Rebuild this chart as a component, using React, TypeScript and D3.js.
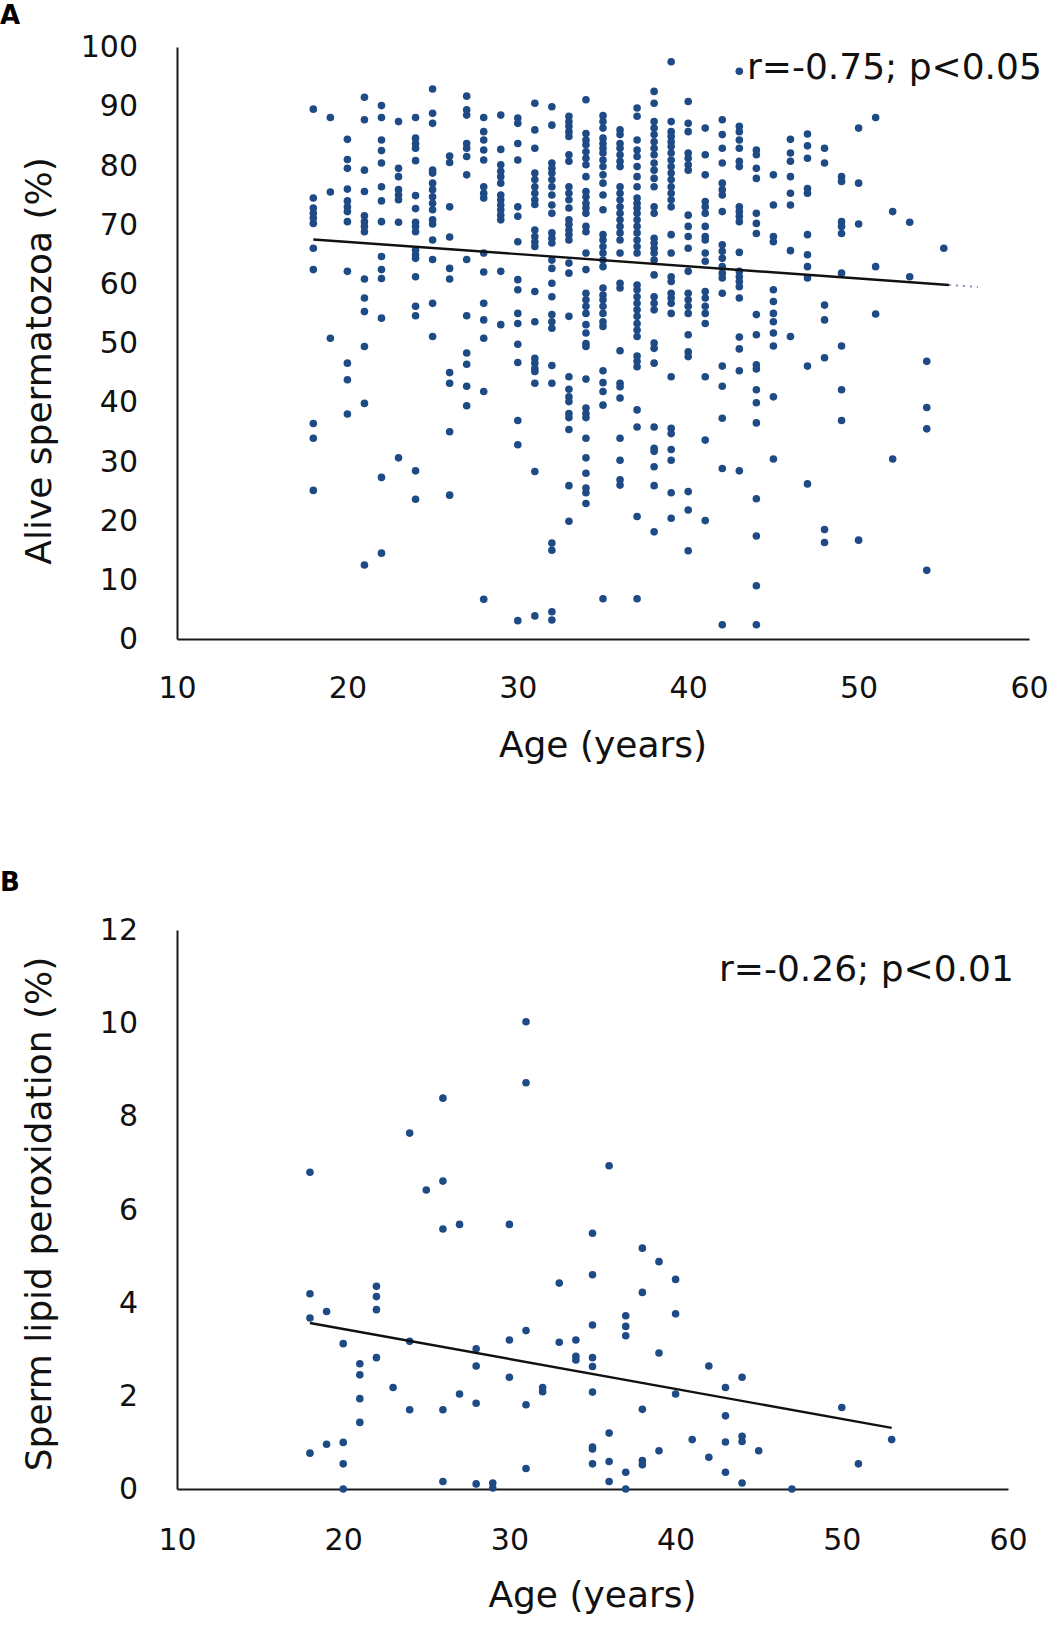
import React, { useEffect, useRef } from "react";
import * as d3 from "d3";

// ---- Panel A: alive spermatozoa (%) vs age, values grouped per age ----
const agesA = [
  18, 19, 20, 21, 22, 23, 24, 25, 26, 27, 28, 29, 30, 31, 32, 33, 34, 35, 36,
  37, 38, 39, 40, 41, 42, 43, 44, 45, 46, 47, 48, 49, 50, 51, 52, 53, 54, 55,
];
const aliveA: number[][] = [
  [89.5, 74.5, 72.8, 71.9, 71.1, 70.2, 66.0, 62.4, 36.4, 33.9, 25.1],
  [88.1, 75.5, 50.8],
  [84.4, 81, 79.5, 76, 74, 73, 72.2, 70.5, 62.1, 46.6, 43.8, 38.0],
  [91.5, 87.7, 79.2, 75.6, 71.5, 70.5, 69.7, 68.8, 60.8, 57.6, 55.3, 49.4, 39.8, 12.5],
  [90.1, 88.1, 84.3, 82.5, 80.4, 76.4, 74, 70.5, 64.6, 62.4, 60.9, 54.2, 27.3, 14.5],
  [87.4, 79.5, 78.1, 75.9, 75, 74.2, 70.4, 30.6],
  [88.1, 84.6, 83.7, 82.9, 80.8, 74.9, 72.7, 70.4, 69.7, 68.8, 65.7, 64.9, 64.3, 61.2, 56.2, 54.6, 28.4, 23.6],
  [92.9, 88.8, 87.1, 79.2, 78.7, 77, 75.9, 74.7, 73.6, 72.5, 70.8, 70.1, 67.4, 64.1, 56.7, 51.1],
  [81.6, 80.5, 73.0, 67.9, 62.6, 60.8, 45, 43.2, 35.0, 24.3],
  [91.7, 89.4, 88.5, 83.7, 82.9, 81.5, 78.4, 64.1, 54.6, 48.3, 46.4, 42.7, 39.4],
  [88.1, 85.7, 84.3, 82.6, 80.9, 76.4, 75.3, 74.5, 65.2, 62, 56.7, 53.9, 50.8, 41.8, 6.7],
  [88.5, 82.7, 80.1, 79, 78.1, 77, 75, 74.2, 73.3, 72.5, 71.6, 70.8, 62.1, 53.1],
  [88, 87.1, 83.7, 80.9, 73.0, 71.4, 67.1, 60.7, 59, 55, 53.3, 49.8, 46.7, 36.9, 32.8, 3.1],
  [90.5, 86, 82.9, 78.7, 77.6, 76.4, 75.3, 74.2, 73.4, 69.1, 68, 67.1, 66.3, 58.7, 53.6, 47.4, 46.6, 45.7, 45.2, 43.2, 28.3, 3.9],
  [89.9, 86.8, 80.4, 79.5, 78.7, 77.6, 76.4, 75, 73.3, 71.9, 68.6, 67.7, 66.9, 64, 62.6, 60.1, 57.8, 54.8, 53.6, 52.5, 46.2, 43.2, 16.2, 15.0, 4.6, 3.2],
  [88.3, 87.4, 86.6, 85.7, 84.9, 81.8, 80.7, 76.4, 75.3, 74.2, 72.8, 70.8, 70, 69.1, 68.3, 67.4, 63.5, 61.8, 54.5, 44.3, 42.2, 40.9, 40.1, 38.1, 37.4, 35.4, 25.9, 19.9],
  [91.1, 85.4, 84.3, 83.5, 82.3, 81.2, 80.1, 78.1, 75.6, 74.7, 73.6, 72.8, 71.9, 69.7, 68.8, 65.2, 62.4, 58.4, 57.3, 56.2, 55, 53.1, 51.7, 49.9, 49.4, 43.9, 39, 38.1, 37.4, 33.9, 30.6, 28, 25.5, 24.7, 22.9],
  [88.4, 87.4, 86.3, 84.6, 83.7, 82.9, 82.1, 80.9, 79.8, 78.4, 77, 75, 72.5, 68.3, 67.4, 66.3, 65.2, 64, 62.9, 59.3, 58.1, 57.3, 56.2, 55, 53.6, 52.8, 45.3, 43.3, 41.8, 39.5, 6.8],
  [86, 85.2, 83.7, 82.9, 81.8, 80.7, 79.8, 76.4, 75.3, 74.2, 73, 71.9, 70.8, 69.7, 68.6, 67.4, 65.2, 60.1, 59.3, 48.7, 43.2, 42.6, 40.7, 33.9, 30.2, 26.9, 26],
  [89.7, 88.3, 84.3, 82.6, 81.5, 79.8, 78.1, 76.4, 74.5, 73.6, 72.8, 71.9, 70.8, 69.7, 68.6, 67.4, 66.3, 65.2, 59.8, 59, 57.8, 56.7, 55.6, 54.5, 53.3, 52.2, 51.1, 47.8, 46.9, 46, 38.7, 35.8, 20.7, 6.8],
  [92.5, 90.5, 87.4, 86.3, 85.2, 84, 82.9, 81.8, 80.4, 79.2, 77.8, 76.4, 73, 71.9, 67.7, 66.9, 66, 65.2, 64, 61.5, 57.8, 56.7, 55.6, 50, 49.1, 46.6, 35.8, 32.2, 31.7, 29.1, 25.9, 18.1],
  [97.5, 87.4, 85.7, 84.9, 84, 83.2, 82.1, 80.9, 79.8, 78.7, 77.6, 76.4, 75.3, 74.2, 73, 68.3, 65.2, 61.2, 60.4, 58.4, 57.6, 56.7, 55, 44.3, 35.6, 34.7, 32, 30.2, 24.7, 20.4],
  [90.8, 87.1, 85.7, 82.1, 81.2, 80.1, 79.2, 71.6, 69.7, 68, 66, 62.1, 58.4, 57.3, 56.2, 55, 51.4, 48.5, 47.7, 24.9, 21.8, 14.9],
  [86.3, 81.8, 78.4, 73.9, 73, 71.9, 69.7, 68, 67.4, 65.2, 63.8, 58.7, 57.6, 56.2, 55, 53.3, 44.3, 33.6, 20],
  [87.7, 85.2, 82.9, 80.4, 77, 75.9, 75, 72.2, 66.6, 65.5, 64.3, 62.9, 61.8, 61, 58.4, 46.1, 42.7, 37.3, 28.8, 2.4],
  [95.9, 86.6, 85.7, 84.3, 82.9, 80.7, 79.8, 73, 72.2, 71.4, 70.5, 65.3, 62.1, 61.2, 60.4, 59.5, 57.6, 51, 49, 45.3, 28.4],
  [82.6, 81.8, 79.5, 77.8, 71.9, 70.2, 68.5, 54.8, 51.4, 46.3, 45.6, 42.1, 39.9, 36.5, 23.7, 17.4, 9, 2.4],
  [78.4, 73.3, 68, 67.1, 59, 57, 55, 53.6, 51.7, 49.5, 40.9, 30.4],
  [84.4, 82.1, 80.7, 78.1, 75.3, 73.3, 65.6, 51.1],
  [85.3, 83.3, 81.2, 76.1, 75.3, 68.3, 64.9, 62.9, 61, 46.1, 26.2],
  [82.9, 80.4, 56.4, 53.9, 47.5, 18.5, 16.3],
  [78.1, 77.3, 70.5, 69.7, 68.5, 61.8, 49.5, 42.1, 36.9],
  [86.3, 77, 70.1, 16.7],
  [88.1, 62.9, 54.9],
  [72.2, 30.4],
  [70.4, 61.2],
  [46.9, 39.1, 35.5, 11.6],
  [66],
];
// trend line (slope, intercept, solid end, dotted end)
const fitA = { slope: -0.206, intercept: 71.2, from: 18, to: 55.3, dottedTo: 57 };
const yTicksA = [0, 10, 20, 30, 40, 50, 60, 70, 80, 90, 100];

// ---- Panel B: sperm lipid peroxidation (%) vs age ----
const agesB = [
  18, 19, 20, 21, 22, 23, 24, 25, 26, 27, 28, 29, 30, 31, 32, 33, 34, 35, 36,
  37, 38, 39, 40, 41, 42, 43, 44, 45, 47, 50, 51, 53,
];
const lpoB: number[][] = [
  [6.8, 4.19, 3.67, 0.77],
  [3.81, 0.96],
  [3.12, 1.0, 0.54, 0],
  [2.69, 2.45, 1.94, 1.43],
  [4.35, 4.13, 3.85, 2.82],
  [2.18],
  [7.64, 3.17, 1.7],
  [6.42],
  [8.39, 6.61, 5.58, 1.7, 0.16],
  [5.68, 2.04],
  [3.01, 2.64, 1.84, 0.11],
  [0.13, 0.02],
  [5.68, 3.2, 2.4],
  [10.03, 8.72, 3.4, 1.81, 0.44],
  [2.18, 2.09],
  [4.42, 3.15],
  [3.2, 2.85, 2.77],
  [5.49, 4.6, 3.52, 2.82, 2.63, 2.08, 0.9, 0.86, 0.54],
  [6.94, 1.2, 0.59, 0.16],
  [3.72, 3.49, 3.29, 0.36, 0],
  [5.17, 4.22, 1.71, 0.61, 0.52],
  [4.88, 2.92, 0.82],
  [4.5, 3.76, 2.04],
  [1.06],
  [2.64, 0.68],
  [2.18, 1.57, 1.01, 0.36],
  [2.4, 1.13, 1.02, 0.13],
  [0.82],
  [0],
  [1.75],
  [0.54],
  [1.06],
];
const fitB = { slope: -0.0643, intercept: 4.72, from: 18, to: 53, dottedTo: 53 };
const yTicksB = [0, 2, 4, 6, 8, 10, 12];

const xTicks = [10, 20, 30, 40, 50, 60];

const FONT = "'DejaVu Sans', Verdana, sans-serif";
const DOT = "#1e4a85";

interface PanelCfg {
  letter: string;
  letterY: number;
  ages: number[];
  values: number[][];
  fit: { slope: number; intercept: number; from: number; to: number; dottedTo: number };
  x: d3.ScaleLinear<number, number>;
  y: d3.ScaleLinear<number, number>;
  yTicks: number[];
  yTitle: string;
  yTitleCenter: number;
  xTitleY: number;
  xLabelPad: number;
  note: string;
  noteX: number;
  noteY: number;
}

function drawPanel(svg: d3.Selection<SVGSVGElement, unknown, null, undefined>, c: PanelCfg) {
  const g = svg.append("g");
  const [x0, x1] = c.x.range();
  const [yBottom] = c.y.range();

  // panel letter
  g.append("text")
    .attr("x", 0)
    .attr("y", c.letterY)
    .style("font-family", FONT)
    .style("font-weight", "bold")
    .style("font-size", "26px")
    .text(c.letter);

  // y axis (no tick marks)
  const yAxis = g
    .append("g")
    .attr("transform", `translate(${x0},0)`)
    .call(d3.axisLeft(c.y).tickValues(c.yTicks).tickSize(0).tickPadding(39).tickFormat(d3.format("d")));
  yAxis.select(".domain").attr("stroke", "#1a1a1a").attr("stroke-width", 2);
  yAxis.selectAll("text").style("font-family", FONT).style("font-size", "30px").attr("fill", "#111");

  // x axis
  const xAxis = g
    .append("g")
    .attr("transform", `translate(0,${yBottom})`)
    .call(d3.axisBottom(c.x).tickValues(xTicks).tickSize(0).tickPadding(c.xLabelPad).tickFormat(d3.format("d")));
  xAxis.select(".domain").attr("stroke", "#1a1a1a").attr("stroke-width", 2);
  xAxis.selectAll("text").style("font-family", FONT).style("font-size", "30px").attr("fill", "#111");

  // points
  const pts = c.ages.flatMap((age, i) => c.values[i].map((v) => ({ age, v })));
  g.append("g")
    .selectAll("circle")
    .data(pts)
    .join("circle")
    .attr("cx", (d) => c.x(d.age))
    .attr("cy", (d) => c.y(d.v))
    .attr("r", 3.8)
    .attr("fill", DOT);

  // linear trend line
  const f = (a: number) => c.fit.intercept + c.fit.slope * a;
  g.append("line")
    .attr("x1", c.x(c.fit.from))
    .attr("y1", c.y(f(c.fit.from)))
    .attr("x2", c.x(c.fit.to))
    .attr("y2", c.y(f(c.fit.to)))
    .attr("stroke", "#111")
    .attr("stroke-width", 2.4);
  if (c.fit.dottedTo > c.fit.to) {
    g.append("line")
      .attr("x1", c.x(c.fit.to))
      .attr("y1", c.y(f(c.fit.to)))
      .attr("x2", c.x(c.fit.dottedTo))
      .attr("y2", c.y(f(c.fit.dottedTo)))
      .attr("stroke", "#7a93b3")
      .attr("stroke-width", 2)
      .attr("stroke-dasharray", "2,5");
  }

  // axis titles
  g.append("text")
    .attr("x", (x0 + x1) / 2)
    .attr("y", c.xTitleY)
    .attr("text-anchor", "middle")
    .style("font-family", FONT)
    .style("font-size", "36px")
    .attr("fill", "#111")
    .text("Age (years)");

  g.append("text")
    .attr("transform", `translate(51,${c.yTitleCenter}) rotate(-90)`)
    .attr("text-anchor", "middle")
    .style("font-family", FONT)
    .style("font-size", "36px")
    .attr("fill", "#111")
    .text(c.yTitle);

  // correlation note
  g.append("text")
    .attr("x", c.noteX)
    .attr("y", c.noteY)
    .style("font-family", FONT)
    .style("font-size", "36px")
    .attr("fill", "#111")
    .text(c.note);
}

const App: React.FC = () => {
  const svgRef = useRef<SVGSVGElement>(null);

  useEffect(() => {
    if (!svgRef.current) return;
    const svg = d3.select(svgRef.current);
    svg.selectAll("*").remove();

    drawPanel(svg, {
      letter: "A",
      letterY: 24,
      ages: agesA,
      values: aliveA,
      fit: fitA,
      x: d3.scaleLinear().domain([10, 60]).range([177, 1029]),
      y: d3.scaleLinear().domain([0, 100]).range([639, 47]),
      yTicks: yTicksA,
      yTitle: "Alive spermatozoa (%)",
      yTitleCenter: 361,
      xTitleY: 757,
      xLabelPad: 38,
      note: "r=-0.75; p<0.05",
      noteX: 747,
      noteY: 79,
    });

    drawPanel(svg, {
      letter: "B",
      letterY: 891,
      ages: agesB,
      values: lpoB,
      fit: fitB,
      x: d3.scaleLinear().domain([10, 60]).range([177, 1008]),
      y: d3.scaleLinear().domain([0, 12]).range([1489, 930]),
      yTicks: yTicksB,
      yTitle: "Sperm lipid peroxidation (%)",
      yTitleCenter: 1214,
      xTitleY: 1607,
      xLabelPad: 40,
      note: "r=-0.26; p<0.01",
      noteX: 719,
      noteY: 981,
    });
  }, []);

  return (
    <svg
      ref={svgRef}
      width={1063}
      height={1636}
      style={{ position: "absolute", left: 0, top: 0, background: "#fff" }}
    ></svg>
  );
};

export default App;
